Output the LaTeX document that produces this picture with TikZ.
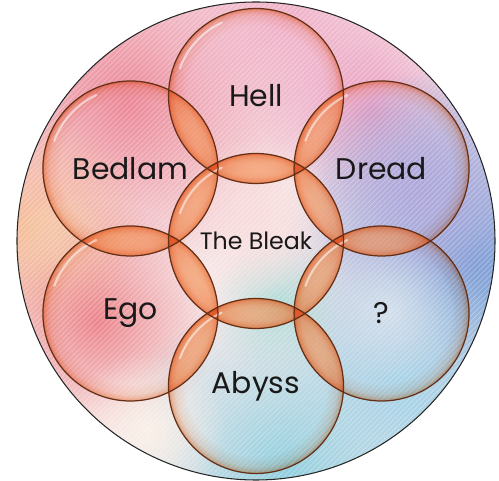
\documentclass[tikz,border=0pt]{standalone}
\usepackage{fontspec}
\setmainfont{Poppins}
\usetikzlibrary{backgrounds,fadings,patterns}
\definecolor{rim}{RGB}{100,48,24}
\definecolor{glow}{RGB}{238,140,84}
\definecolor{lens}{RGB}{246,158,98}
\definecolor{paper}{RGB}{247,232,233}
\definecolor{wred}{RGB}{236,136,152}
\definecolor{wpink}{RGB}{240,176,200}
\definecolor{wmag}{RGB}{234,156,192}
\definecolor{wblue}{RGB}{118,158,214}
\definecolor{wviolet}{RGB}{176,168,220}
\definecolor{wpeach}{RGB}{246,184,148}
\definecolor{wcream}{RGB}{248,226,182}
\definecolor{wrose}{RGB}{236,134,140}
\definecolor{wteal}{RGB}{146,208,224}
\definecolor{wsky}{RGB}{168,212,232}
\definecolor{wmint}{RGB}{176,220,216}
\definecolor{wblush}{RGB}{249,220,220}
\definecolor{wmist}{RGB}{212,224,236}
\definecolor{wivory}{RGB}{251,240,232}
\pgfdeclareradialshading{rimglow}{\pgfpointorigin}{color(0bp)=(white); color(20bp)=(white); color(23bp)=(glow!18!white); color(24.3bp)=(glow!45!white); color(25bp)=(glow!75!white); color(50bp)=(glow!75!white)}
\tikzfading[name=softblob,inner color=transparent!0,outer color=transparent!100]

\begin{document}
\begin{tikzpicture}[bubble/.style={circle,minimum size=35mm,inner sep=0pt,text=black!90,font=\fontsize{17}{20}\selectfont},
  rimline/.style={draw=rim,line width=.7pt},blob/.style={path fading=softblob}]
\useasboundingbox (-5.12,-4.8) rectangle (4.86,4.82);
\node[bubble] (B) at (0,0) {\fontsize{13.5}{16}\selectfont The Bleak};
\node[bubble] (H) at (90:2.9) {Hell};
\node[bubble] (D) at (30:2.9) {Dread};
\node[bubble] (Q) at (-30:2.9) {?};
\node[bubble] (A) at (-90:2.9) {Abyss};
\node[bubble] (E) at (210:2.9) {Ego};
\node[bubble] (L) at (150:2.9) {Bedlam};
\begin{scope}[on background layer]
  \begin{scope}
    \clip (0,0) circle (4.78);
    \fill[paper] (-5,-5) rectangle (5,5);
    \foreach \x/\y/\r/\c in {-2.6/2.8/3.6/wred,0.6/4.4/3.0/wpink,2.3/2.6/2.2/wmag,4.4/-0.4/4.0/wblue,
      3.3/1.0/2.4/wviolet,-4.6/0.2/2.4/wpeach,-3.9/-0.3/1.2/wcream,-3.2/-1.6/2.4/wrose,0.6/-4.6/3.6/wteal,
      3.0/-3.0/2.6/wsky,0.5/-1.3/1.4/wmint,0/0.5/1.6/wblush,2.6/-1.4/1.4/wmist,-2.2/-3.8/1.6/wivory}
      \fill[\c,blob] (\x,\y) circle (\r);
    \fill[pattern=north east lines,pattern color=white,opacity=.3] (-5,-5) rectangle (5,5);
  \end{scope}
  \foreach \a/\b in {B/H,B/D,B/Q,B/A,B/E,B/L,H/D,D/Q,Q/A,A/E,E/L,L/H} {
    \begin{scope}
      \clip (\a.center) circle (1.75);
      \fill[lens,opacity=.62] (\b.center) circle (1.75);
    \end{scope}
  }
  \foreach \n in {B,H,D,Q,A,E,L}
    \shade[shading=rimglow,blend mode=multiply] (\n.center) circle (1.75);
  \foreach \n in {B,H,D,Q,A,E,L}
    \draw[white,opacity=.55,line width=1.2pt,line cap=round] ([shift={(115:1.62)}]\n.center) arc[start angle=115,end angle=160,radius=1.62];
  \foreach \n in {B,H,D,Q,A,E,L}
    \draw[rimline] (\n.center) circle (1.75);
  \draw[line width=.6pt,black!85] (0,0) circle (4.78);
\end{scope}
\end{tikzpicture}
\end{document}
